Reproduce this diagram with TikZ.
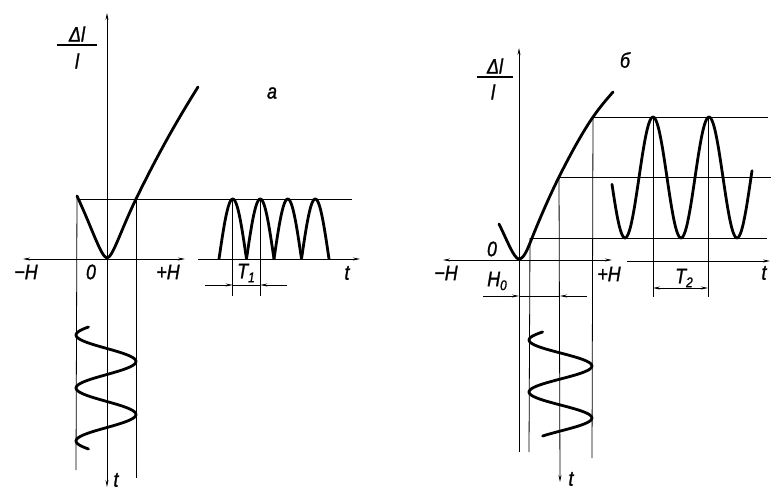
\documentclass[tikz,border=0pt]{standalone}
\usepackage{fontspec}
\setmainfont{Liberation Sans}[FakeStretch=0.85,FakeBold=1.2]
\usetikzlibrary{arrows.meta}
\begin{document}
\begin{tikzpicture}[x=1pt,y=-1pt,
  fine/.style={line width=0.8pt},
  heavy/.style={line width=2.8pt,line cap=round,line join=round},
  tipend/.style={-{Stealth[length=7pt,width=3pt]}},
  tipboth/.style={{Stealth[length=7pt,width=3pt]}-{Stealth[length=7pt,width=3pt]}},
  lbl/.style={font=\fontsize{21}{23}\selectfont\itshape,inner sep=0pt}]
\useasboundingbox (0,0) rectangle (771,490);
\newcommand{\lowidx}[1]{\raisebox{-0.35ex}{\fontsize{14}{15}\selectfont #1}}

% ================= panel a =================
\coordinate (aTop) at (107,13);
\coordinate (aBot) at (107,487);
\coordinate (aL) at (23,259);
\coordinate (aR) at (185,259);
\coordinate (aT0) at (198,259);
\coordinate (aT1) at (360,259);
\coordinate (aH1) at (77,199);
\coordinate (aH2) at (352,199);
\coordinate (aV1a) at (77,196);
\coordinate (aV1b) at (76,470);
\coordinate (aV2a) at (136,199);
\coordinate (aV2b) at (136,478);
\coordinate (aP1a) at (232.75,199);
\coordinate (aP1b) at (232.75,296);
\coordinate (aP2a) at (260.25,199);
\coordinate (aP2b) at (260.25,296);
\coordinate (aD1) at (205,285);
\coordinate (aD1e) at (232.75,285);
\coordinate (aD2) at (287,285);
\coordinate (aD2e) at (260.25,285);

\draw[fine,tipboth] (aBot) -- (aTop);
\draw[fine,tipboth] (aL) -- (aR);
\draw[fine,tipend] (aT0) -- (aT1);
\draw[fine] (aH1) -- (aH2);
\draw[fine] (aV1a) -- (aV1b);
\draw[fine] (aV2a) -- (aV2b);
\draw[fine] (aP1a) -- (aP1b);
\draw[fine] (aP2a) -- (aP2b);
\draw[fine] (aD1e) -- (aD2e);
\draw[fine,tipend] (aD1) -- (aD1e);
\draw[fine,tipend] (aD2) -- (aD2e);

% characteristic curve
\draw[heavy] (77,196) .. controls (92,228) and (101,257) .. (107,258)
  .. controls (113,257) and (120,232) .. (136,199)
  .. controls (157,156) and (176,122) .. (198,87);

% rectified oscillation
\foreach \k in {0,1,2,3}{
  \pgfmathsetmacro{\xa}{219+27.5*\k}
  \pgfmathsetmacro{\xb}{219+27.5*(\k+1)}
  \draw[heavy,line cap=butt] plot[domain=\xa:\xb,samples=40,smooth]
    (\x,{259-60*abs(sin((\x-219)/27.5*180))});
}

% field in time
\draw[heavy] plot[domain=327:449,samples=90,smooth]
  ({106-30*cos((\x-335)/53*360)},\x);

\node[lbl] (aDl) at (77,34) {Δl};
\draw[line width=1.3pt] (57,45) -- (97,45);
\node[lbl] (al) at (77,61) {l};
\node[lbl] (aname) at (272,93) {а};
\node[lbl] (amH) at (26,272) {−H};
\node[lbl] (a0) at (91,272) {0};
\node[lbl] (apH) at (168,272) {+H};
\node[lbl] (aT) at (246,273) {T\lowidx{1}};
\node[lbl] (at) at (347,273) {t};
\node[lbl] (atb) at (116,480) {t};

% ================= panel b =================
\coordinate (bTop) at (519,48);
\coordinate (bBot) at (519,452);
\coordinate (bL) at (443,260);
\coordinate (bR) at (612,260);
\coordinate (bT0) at (627,261);
\coordinate (bT1) at (770,261);
\coordinate (bH1a) at (593,117);
\coordinate (bH1b) at (768,117);
\coordinate (bH2a) at (559,177);
\coordinate (bH2b) at (771,177);
\coordinate (bH3a) at (530,238);
\coordinate (bH3b) at (767,238);
\coordinate (bV1b) at (529,452);
\coordinate (bV2b) at (560,482);
\coordinate (bV3b) at (592,458);
\coordinate (bP1a) at (653,117);
\coordinate (bP1b) at (653,297);
\coordinate (bP2a) at (708,117);
\coordinate (bP2b) at (708,297);
\coordinate (bD1) at (653,288);
\coordinate (bD2) at (708,288);
\coordinate (bE1) at (483,296);
\coordinate (bE1e) at (519,296);
\coordinate (bE2) at (587,296);
\coordinate (bE2e) at (560,296);

\draw[fine,tipend] (bBot) -- (bTop);
\draw[fine,tipboth] (bL) -- (bR);
\draw[fine,tipend] (bT0) -- (bT1);
\draw[fine] (bH1a) -- (bH1b);
\draw[fine] (bH2a) -- (bH2b);
\draw[fine] (bH3a) -- (bH3b);
\draw[fine] (bH3a) -- (bV1b);
\draw[fine,tipend] (bH2a) -- (bV2b);
\draw[fine] (bH1a) -- (bV3b);
\draw[fine] (bP1a) -- (bP1b);
\draw[fine] (bP2a) -- (bP2b);
\draw[fine,tipboth] (bD1) -- (bD2);
\draw[fine] (bE1e) -- (bE2e);
\draw[fine,tipend] (bE1) -- (bE1e);
\draw[fine,tipend] (bE2) -- (bE2e);

% characteristic curve
\draw[heavy] (499,224) .. controls (507,240) and (514,259) .. (519,259)
  .. controls (524,259) and (528,248) .. (532,238)
  .. controls (540,218) and (550,195) .. (559,177)
  .. controls (570,155) and (582,133) .. (593,117)
  .. controls (600,107) and (606,100) .. (613,92);

% output oscillation
\draw[heavy] plot[domain=612:752,samples=120,smooth]
  (\x,{177.5-60.5*cos((\x-653)/56*360)});

% biased field in time
\draw[heavy] plot[domain=332:436,samples=80,smooth]
  ({560.5-31.5*cos((\x-340)/52*360)},\x);

\node[lbl] (bDl) at (495,66) {Δl};
\draw[line width=1.3pt] (477,77) -- (513,77);
\node[lbl] (bl) at (493,92) {l};
\node[lbl] (bname) at (625,60) {б};
\node[lbl] (bmH) at (446,273) {−H};
\node[lbl] (b0) at (492,249) {0};
\node[lbl] (bpH) at (609,274) {+H};
\node[lbl] (bH0) at (497,281) {H\lowidx{0}};
\node[lbl] (bT) at (684,278) {T\lowidx{2}};
\node[lbl] (bt) at (764,273) {t};
\node[lbl] (btb) at (571,479) {t};
\end{tikzpicture}
\end{document}
